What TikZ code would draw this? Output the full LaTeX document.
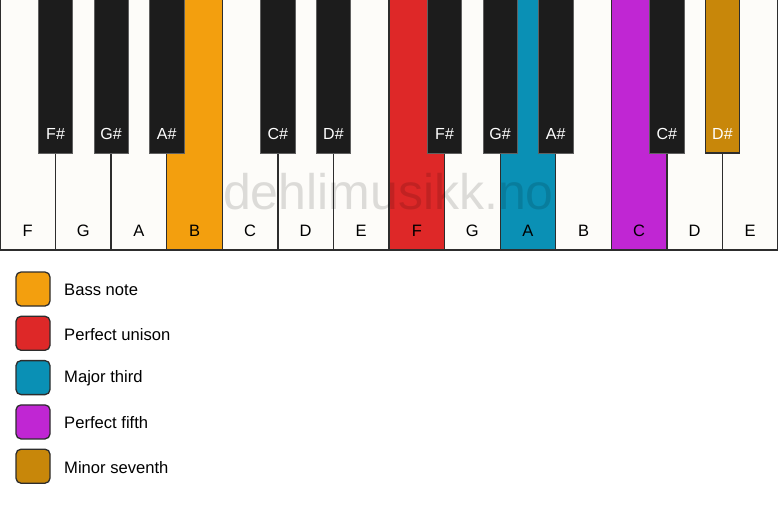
\documentclass[tikz,border=0pt]{standalone}
\usepackage{fontspec}
\setmainfont{Liberation Sans}
\definecolor{wkey}{RGB}{253,252,249}
\definecolor{bkey}{RGB}{28,28,28}
\definecolor{edge}{RGB}{45,45,45}
\definecolor{cbass}{RGB}{243,159,14}
\definecolor{cuni}{RGB}{222,40,40}
\definecolor{cthird}{RGB}{10,144,181}
\definecolor{cfifth}{RGB}{192,38,211}
\definecolor{cseventh}{RGB}{200,135,10}
\tikzset{
  whitekey/.style={draw=edge, line width=1.3pt, fill=wkey},
  blackkey/.style={fill=bkey, draw=bkey!70!white, line width=0.6pt},
  wlabel/.style={font=\fontsize{16.5}{17}\selectfont, text=black, inner sep=0},
  blabel/.style={font=\fontsize{16}{17}\selectfont, text=white, inner sep=0},
  legbox/.style={draw=edge, line width=1.3pt, rounded corners=5pt, minimum width=34pt, minimum height=34pt, inner sep=0},
  legtext/.style={font=\fontsize{16.6}{18}\selectfont, anchor=west, inner sep=0}
}
\begin{document}
\begin{tikzpicture}[x=1pt,y=-1pt]
\fill[white] (0,0) rectangle (778,506);
\useasboundingbox (0,0) rectangle (778,506);
\def\kw{55.5714}
% white keys
\foreach \i/\n/\c in {0/F/wkey,1/G/wkey,2/A/wkey,3/B/cbass,4/C/wkey,5/D/wkey,6/E/wkey,7/F/cuni,8/G/wkey,9/A/cthird,10/B/wkey,11/C/cfifth,12/D/wkey,13/E/wkey}{
  \draw[whitekey, fill=\c] ({\i*\kw},-2) rectangle ({(\i+1)*\kw},250);
  \node[wlabel] (w\i) at ({(\i+0.5)*\kw},230.5) {\n};
}
% watermark
\node[font=\fontsize{50}{50}\selectfont, text=black, text opacity=0.13, inner sep=0, anchor=base] (wm) at (388.5,209) {dehlimusikk.no};
% black keys
\foreach \i/\n in {1/F\#,2/G\#,3/A\#,5/C\#,6/D\#,8/F\#,9/G\#,10/A\#,12/C\#}{
  \draw[blackkey] ({\i*\kw-17.2},-2) rectangle ({\i*\kw+17.2},153);
  \node[blabel] (b\i) at ({\i*\kw},133.5) {\n};
}
\draw[edge, line width=1.3pt, fill=cseventh] (13*\kw-17.2,-2) rectangle (13*\kw+17.2,153);
\node[blabel] (b13) at (13*\kw,133.5) {D\#};
% legend
\foreach \j/\c/\t in {0/cbass/Bass note,1/cuni/Perfect unison,2/cthird/Major third,3/cfifth/Perfect fifth,4/cseventh/Minor seventh}{
  \node[legbox, fill=\c] (l\j) at (33,{289+\j*44.3}) {};
  \node[legtext] (t\j) at (64,{290+\j*44.3}) {\t};
}
\end{tikzpicture}
\end{document}
